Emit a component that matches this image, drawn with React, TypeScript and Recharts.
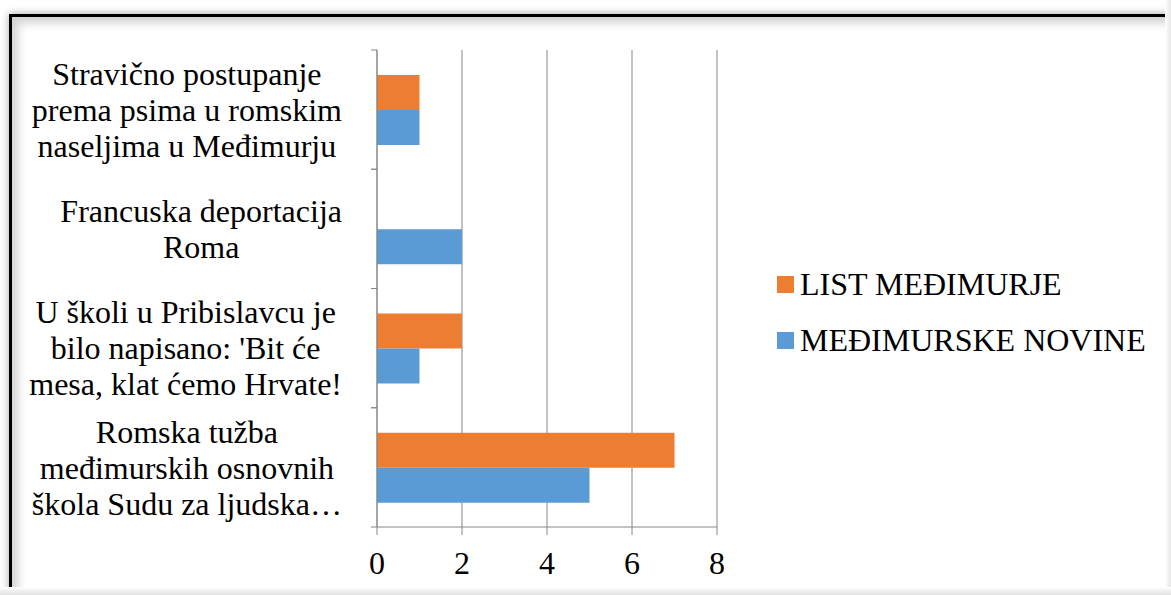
import { BarChart, Bar, XAxis, YAxis, CartesianGrid } from 'recharts'

const categories = [
  ['Stravično postupanje', 'prema psima u romskim', 'naseljima u Međimurju'],
  ['Francuska deportacija', 'Roma'],
  ['U školi u Pribislavcu je', "bilo napisano: 'Bit će", 'mesa, klat ćemo Hrvate!'],
  ['Romska tužba', 'međimurskih osnovnih', 'škola Sudu za ljudska…'],
]
const listMedimurje = [1, 0, 2, 7]
const medimurskeNovine = [1, 2, 1, 5]
const xTicks = [0, 2, 4, 6, 8]

const SERIES = [
  { key: 'list', name: 'LIST MEĐIMURJE', color: '#ED7D31' },
  { key: 'novine', name: 'MEĐIMURSKE NOVINE', color: '#5B9BD5' },
]

const W = 1171
const H = 595
const TOP = 50
const X_AXIS_H = 68
const AXIS_X = 377
const RIGHT = 454
const LABEL_RIGHT = 342
const FONT = '"Liberation Serif", "Times New Roman", serif'
const FS = 32
const GRID = '#868686'

const data = categories.map((lines, i) => ({
  name: lines.join(' '),
  lines,
  list: listMedimurje[i],
  novine: medimurskeNovine[i],
}))

const band = (H - TOP - X_AXIS_H) / categories.length

// label block is right-aligned, lines centred inside it (like Excel)
let ctx: CanvasRenderingContext2D | null = null
function textWidth(s: string) {
  if (!ctx) {
    ctx = document.createElement('canvas').getContext('2d')
    if (ctx) ctx.font = `${FS}px ${FONT}`
  }
  return ctx ? ctx.measureText(s).width : s.length * FS * 0.45
}

function CategoryTick(props: any) {
  const { y, index } = props
  const lines: string[] = data[index].lines
  const lh = 36
  const start = y - ((lines.length - 1) * lh) / 2
  const blockW = Math.max(...lines.map(textWidth))
  const cx = LABEL_RIGHT - blockW / 2
  return (
    <g>
      <line x1={AXIS_X - 6} x2={AXIS_X} y1={y - band / 2} y2={y - band / 2} stroke={GRID} />
      <line x1={AXIS_X - 6} x2={AXIS_X} y1={y + band / 2} y2={y + band / 2} stroke={GRID} />
      <text textAnchor="middle" fontFamily={FONT} fontSize={FS} fill="#000">
        {lines.map((l, i) => (
          <tspan key={i} x={cx} y={start + i * lh} dy="0.35em">
            {l}
          </tspan>
        ))}
      </text>
    </g>
  )
}

function LegendBox() {
  return (
    <div style={{ position: 'absolute', left: 777, top: 256, fontFamily: FONT, fontSize: FS, color: '#000', lineHeight: 1 }}>
      {SERIES.map((s) => (
        <div key={s.key} style={{ display: 'flex', alignItems: 'center', height: 56, whiteSpace: 'nowrap' }}>
          <span style={{ width: 17, height: 17, background: s.color, marginRight: 6 }} />
          <span>{s.name}</span>
        </div>
      ))}
    </div>
  )
}

export default function App() {
  return (
    <div style={{ position: 'fixed', left: 0, top: 0, width: W, height: H, background: '#fff', overflow: 'hidden' }}>
      <div
        style={{
          position: 'absolute',
          left: 9,
          top: 14,
          width: W,
          height: H,
          borderTop: '3px solid #000',
          borderLeft: '3px solid #000',
          boxShadow: '0 0 8px rgba(0,0,0,0.35), inset 6px 6px 10px rgba(0,0,0,0.18)',
        }}
      />
      <div style={{ position: 'absolute', right: 0, top: 0, width: 6, height: H, background: 'linear-gradient(to right, #fff, #e6e6e6)' }} />
      <div style={{ position: 'absolute', left: 0, bottom: 0, width: W, height: 8, background: 'linear-gradient(to bottom, #fff, #e0e0e0)' }} />
      <div style={{ position: 'absolute', left: 0, top: 0 }}>
        <BarChart
          width={W}
          height={H}
          data={data}
          layout="vertical"
          margin={{ top: TOP, right: RIGHT, bottom: 0, left: 0 }}
          barCategoryGap="21%"
          barGap={0}
        >
          <CartesianGrid horizontal={false} stroke={GRID} />
          <XAxis
            type="number"
            domain={[0, 8]}
            ticks={xTicks}
            interval={0}
            height={X_AXIS_H}
            axisLine={{ stroke: GRID }}
            tickLine={{ stroke: GRID }}
            tickSize={8}
            tickMargin={16}
            tick={{ fontFamily: FONT, fontSize: FS, fill: '#000' }}
          />
          <YAxis
            type="category"
            dataKey="name"
            width={AXIS_X}
            axisLine={{ stroke: GRID }}
            tickLine={false}
            interval={0}
            tick={<CategoryTick />}
          />
          {SERIES.map((s) => (
            <Bar key={s.key} dataKey={s.key} name={s.name} fill={s.color} isAnimationActive={false} />
          ))}
        </BarChart>
      </div>
      <LegendBox />
    </div>
  )
}
